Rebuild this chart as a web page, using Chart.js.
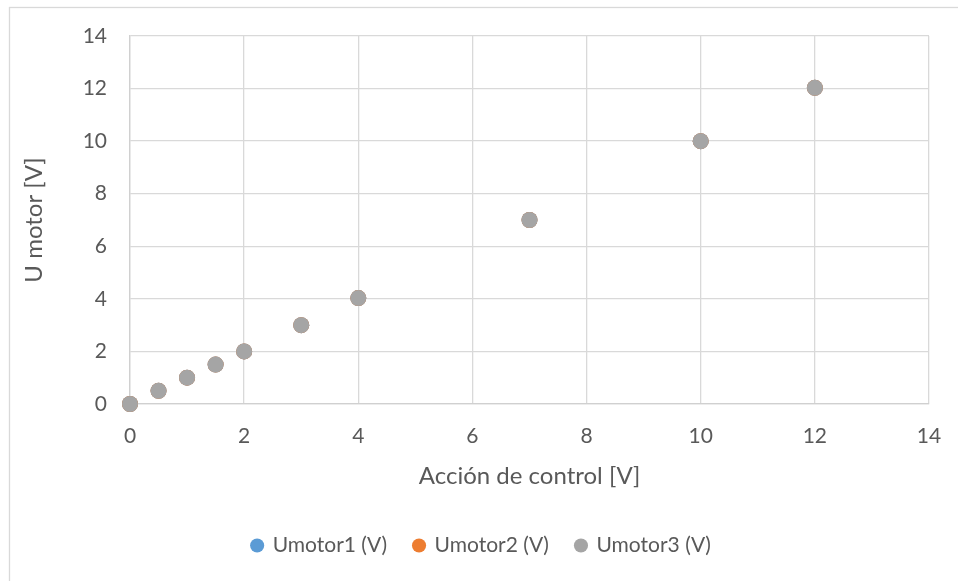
<!DOCTYPE html>
<html>
<head>
<meta charset="utf-8">
<script src="https://cdn.jsdelivr.net/npm/chart.js@4"></script>
<style>
html,body{margin:0;padding:0;background:#fff;}
#wrap{width:958px;height:581px;position:relative;}
</style>
</head>
<body>
<div id="wrap"><canvas id="c" width="958" height="581"></canvas></div>
<script>
const seriesNames = ["Umotor1 (V)", "Umotor2 (V)", "Umotor3 (V)"];
const seriesColors = ["#5B9BD5", "#ED7D31", "#A5A5A5"];
const accion = [0, 0.5, 1, 1.5, 2, 3, 4, 7, 10, 12];
const umotor1 = [0, 0.5, 1, 1.5, 2, 3, 4.03, 7, 10, 12.03];
const umotor2 = [0, 0.5, 1, 1.5, 2, 3, 4.03, 7, 10, 12.03];
const umotor3 = [0, 0.5, 1, 1.5, 2, 3, 4.03, 7, 10, 12.03];
const xTitle = "Acción de control [V]";
const yTitle = "U motor [V]";

const FONT = "Lato";
const TXT = "#595959";

const seriesValues = [umotor1, umotor2, umotor3];
const datasets = seriesValues.map((vals, i) => ({
  label: seriesNames[i],
  data: accion.map((x, j) => ({x: x, y: vals[j]})),
  backgroundColor: seriesColors[i],
  borderColor: seriesColors[i],
  borderWidth: 0,
  pointRadius: 8,
  pointHoverRadius: 8,
  clip: false,
  order: 2 - i
}));

const borderPlugin = {
  id: 'outerBorder',
  beforeDraw(chart) {
    const ctx = chart.ctx;
    ctx.save();
    ctx.fillStyle = '#ffffff';
    ctx.fillRect(0, 0, chart.width, chart.height);
    ctx.strokeStyle = '#d9d9d9';
    ctx.lineWidth = 1.3;
    ctx.strokeRect(9.5, 7.5, 1000, 700);
    ctx.restore();
  },
  afterLayout(chart) {
    if (chart.legend) {
      chart.legend.left += 12;
      chart.legend.right += 12;
    }
  }
};

new Chart(document.getElementById('c'), {
  type: 'scatter',
  data: { datasets: datasets },
  plugins: [borderPlugin],
  options: {
    responsive: false,
    animation: false,
    events: [],
    layout: { padding: { left: 10, right: 29, top: 36, bottom: 15 } },
    plugins: {
      tooltip: { enabled: false },
      legend: {
        position: 'bottom',
        labels: {
          usePointStyle: true,
          pointStyle: 'circle',
          boxWidth: 10,
          boxHeight: 10,
          padding: 27,
          color: TXT,
          font: { family: FONT, size: 21 },
          sort: (a, b) => a.datasetIndex - b.datasetIndex
        }
      }
    },
    scales: {
      x: {
        type: 'linear',
        min: 0, max: 14,
        ticks: { stepSize: 2, color: TXT, padding: 20, font: { family: FONT, size: 21 } },
        grid: { color: '#d9d9d9', lineWidth: 1.3, drawTicks: false },
        border: { color: '#d0d0d0', width: 1.3 },
        title: { display: true, text: xTitle, color: TXT, font: { family: FONT, size: 24 }, padding: { top: 0, bottom: 17 } },
        afterFit(s) { s.height = 104; s.paddingLeft = 0; s.paddingRight = 0; }
      },
      y: {
        type: 'linear',
        min: 0, max: 14,
        ticks: { stepSize: 2, color: TXT, padding: 23, font: { family: FONT, size: 21 } },
        grid: { color: '#d9d9d9', lineWidth: 1.3, drawTicks: false },
        border: { color: '#d0d0d0', width: 1.3 },
        title: { display: true, text: yTitle, color: TXT, font: { family: FONT, size: 24 }, padding: { top: 10, bottom: 0 } },
        afterFit(s) { s.width = 120; }
      }
    }
  }
});
</script>
</body>
</html>
